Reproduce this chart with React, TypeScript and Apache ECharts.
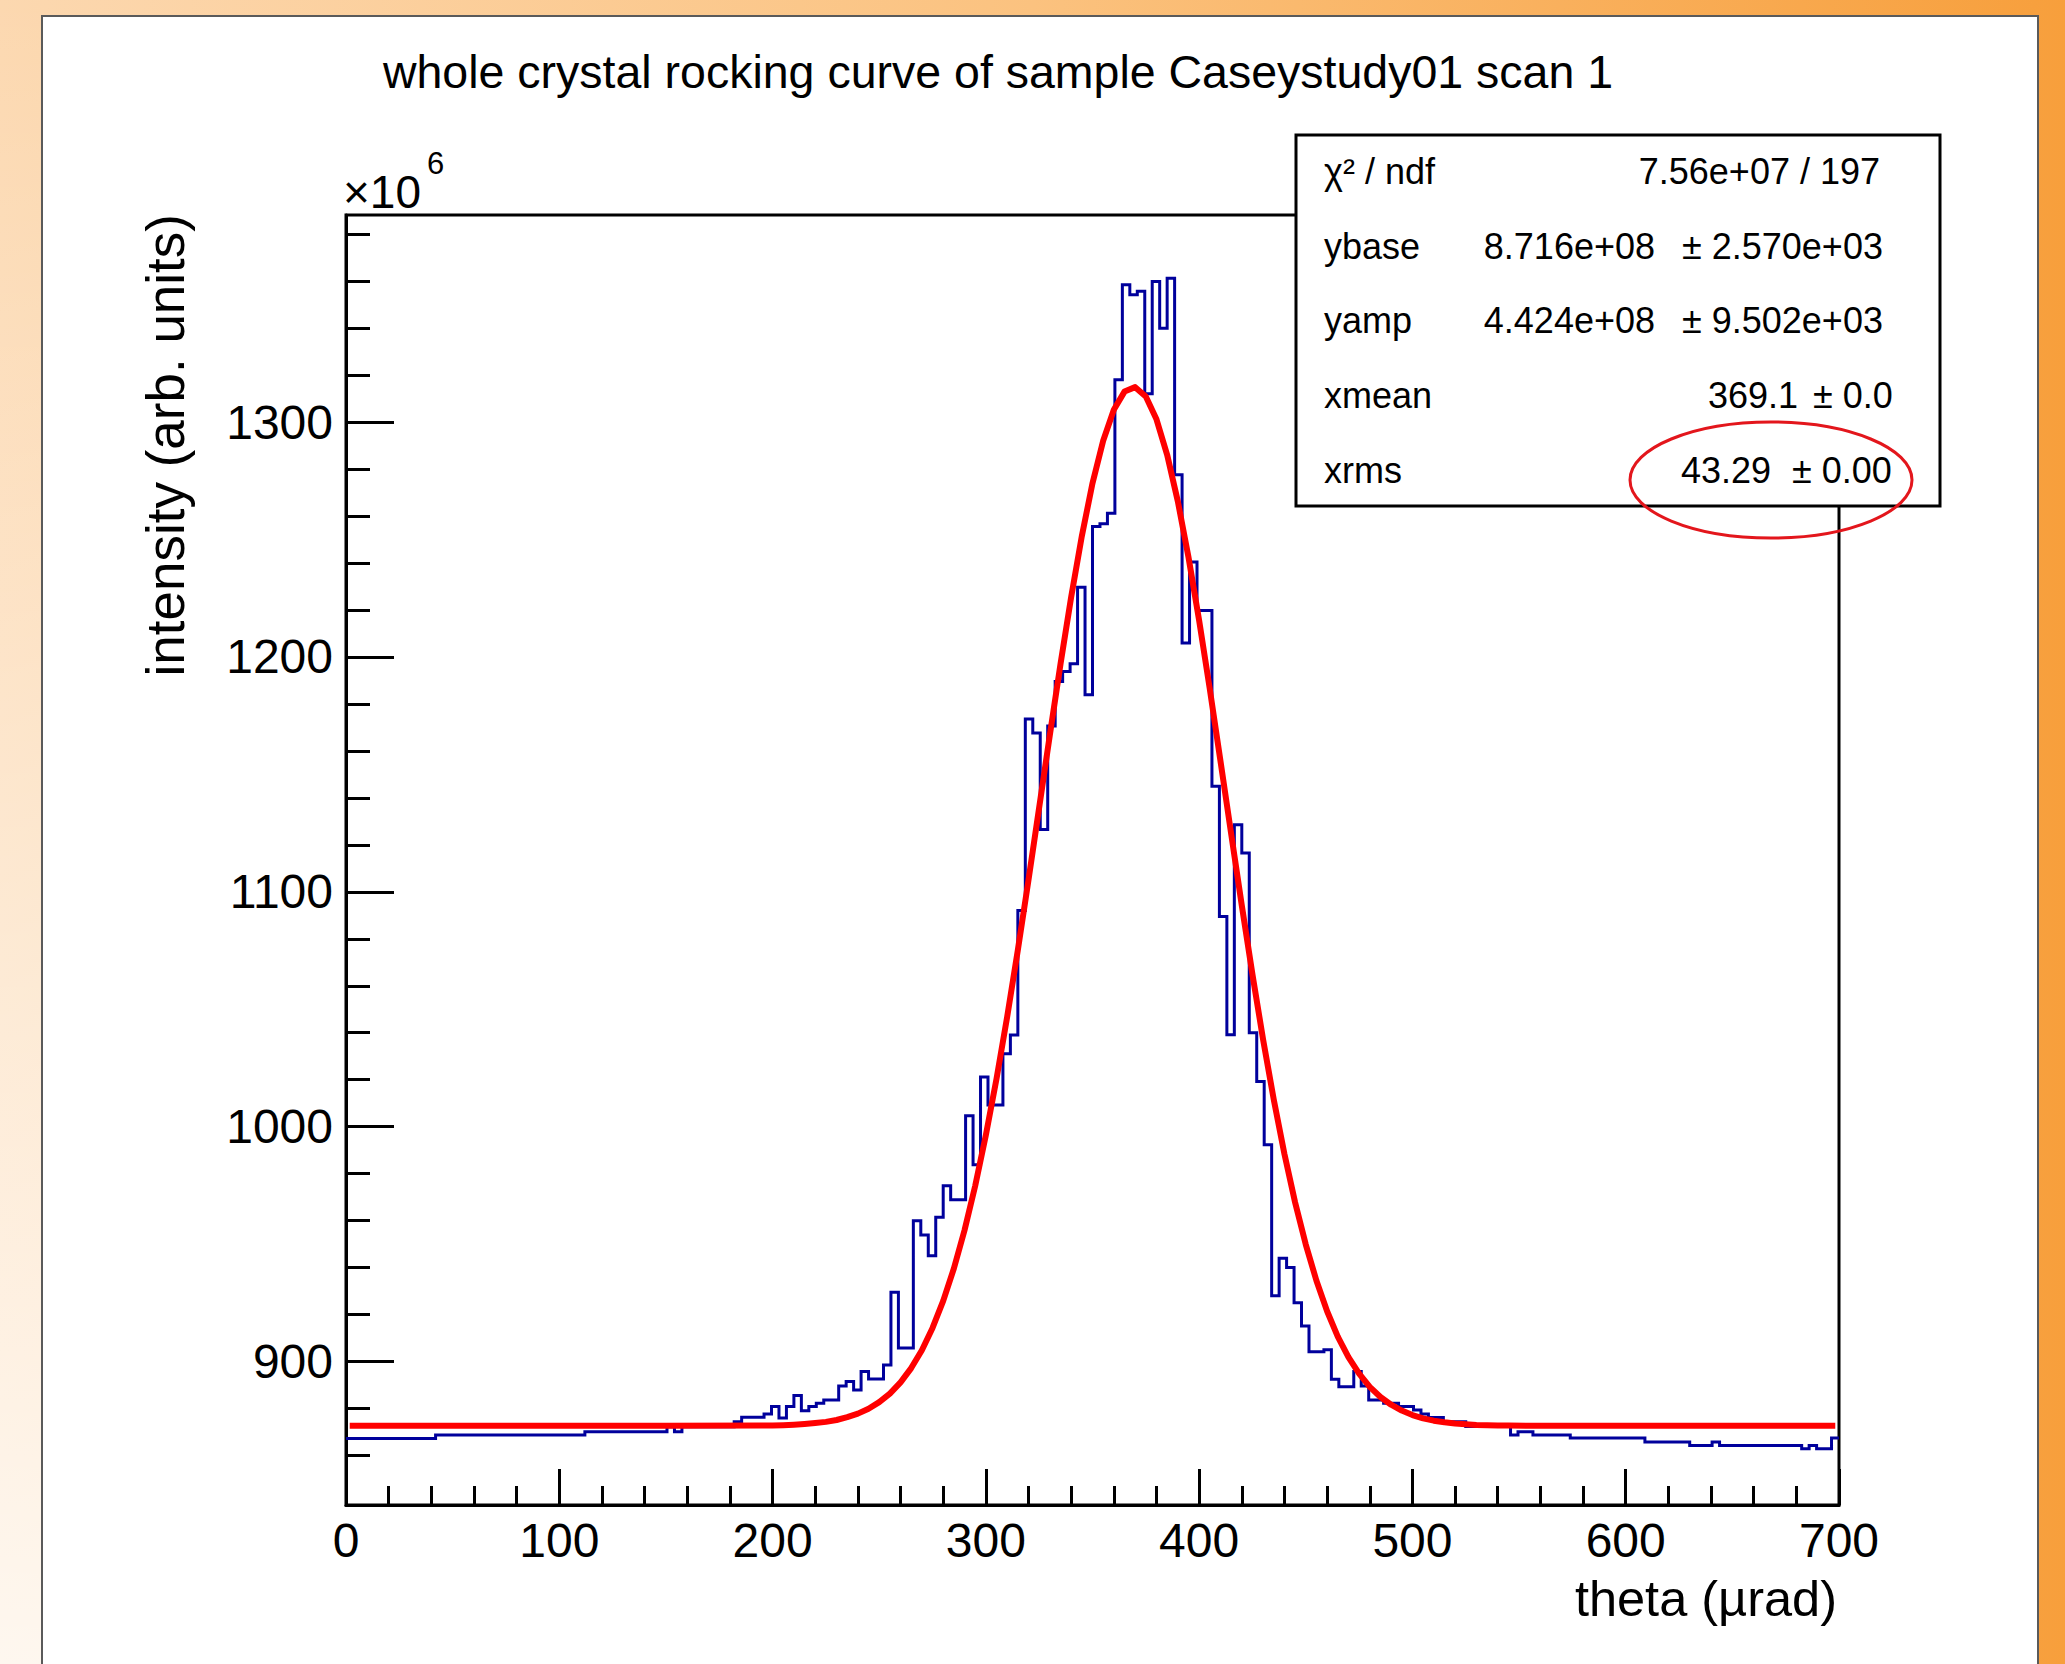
import React, { useEffect, useRef } from 'react';
import * as echarts from 'echarts';

// ---------------- data (values in units of 10^6) ----------------
const BIN_WIDTH = 3.5; // µrad, 200 bins over 0..700
const histValues: number[] = [
  867.2, 867.2, 867.2, 867.2, 867.2, 867.2, 867.2, 867.2, 867.2, 867.2,
  867.2, 867.2, 868.7, 868.7, 868.7, 868.7, 868.7, 868.7, 868.7, 868.7,
  868.7, 868.7, 868.7, 868.7, 868.7, 868.7, 868.7, 868.7, 868.7, 868.7,
  868.7, 868.7, 870.1, 870.1, 870.1, 870.1, 870.1, 870.1, 870.1, 870.1,
  870.1, 870.1, 870.1, 872.2, 870.1, 872.2, 872.2, 872.2, 872.2, 872.2,
  872.2, 872.2, 874.4, 876.3, 876.3, 876.3, 877.6, 880.8, 875.9, 880.8,
  885.5, 879.0, 880.8, 882.2, 883.6, 883.6, 889.6, 891.5, 887.9, 895.7,
  892.6, 892.6, 898.5, 929.5, 905.7, 905.7, 959.9, 953.9, 945.0, 961.4,
  974.8, 968.9, 968.9, 1004.7, 983.8, 1021.2, 1009.2, 1009.2, 1031.0, 1039.0,
  1092.0, 1173.6, 1167.6, 1126.5, 1170.6, 1189.6, 1193.8, 1197.1, 1229.7, 1183.9,
  1255.6, 1256.7, 1261.2, 1318.0, 1358.5, 1354.2, 1355.7, 1312.1, 1359.9, 1340.0,
  1361.3, 1277.6, 1205.9, 1240.4, 1219.8, 1219.8, 1145.0, 1089.5, 1039.1, 1128.6,
  1116.5, 1040.0, 1019.2, 992.3, 928.0, 944.0, 940.0, 925.0, 915.1, 904.2,
  904.2, 905.0, 892.4, 889.3, 889.3, 895.7, 889.6, 883.6, 883.6, 882.2,
  882.2, 880.8, 880.8, 879.3, 877.6, 876.2, 876.2, 874.4, 874.4, 874.4,
  872.3, 872.3, 872.3, 872.3, 872.3, 872.3, 868.7, 870.1, 870.1, 868.7,
  868.7, 868.7, 868.7, 868.7, 867.4, 867.4, 867.4, 867.4, 867.4, 867.4,
  867.4, 867.4, 867.4, 867.4, 865.7, 865.7, 865.7, 865.7, 865.7, 865.7,
  864.2, 864.2, 864.2, 865.7, 864.2, 864.2, 864.2, 864.2, 864.2, 864.2,
  864.2, 864.2, 864.2, 864.2, 864.2, 862.8, 864.2, 862.8, 862.8, 867.4,
];

// fitted curve
const fitX: number[] = [
  1.75, 150, 195, 200, 205, 210, 215, 220, 225, 230, 235, 240, 245, 250, 255, 260, 265, 270,
  275, 280, 285, 290, 295, 300, 305, 310, 315, 320, 325, 330, 335, 340, 345, 350, 355, 360,
  365, 370, 375, 380, 385, 390, 395, 400, 405, 410, 415, 420, 425, 430, 435, 440, 445, 450,
  455, 460, 465, 470, 475, 480, 485, 490, 495, 500, 505, 510, 515, 520, 525, 530, 535, 540,
  545, 560, 698.25,
];
const fitY: number[] = [
  872.6, 872.6, 872.7, 872.8, 872.9, 873.1, 873.4, 873.8, 874.3, 875.1, 876.3, 877.8, 879.9,
  882.7, 886.3, 891.1, 897.2, 904.8, 914.3, 925.8, 939.6, 955.9, 974.8, 996.4, 1020.4, 1046.8,
  1075.2, 1105.1, 1135.9, 1166.8, 1197.0, 1225.5, 1251.5, 1274.0, 1292.1, 1305.3, 1313.0,
  1314.9, 1310.9, 1301.2, 1286.1, 1266.3, 1242.5, 1215.5, 1186.3, 1155.7, 1124.8, 1094.2,
  1064.8, 1037.0, 1011.5, 988.3, 967.7, 949.8, 934.4, 921.4, 910.6, 901.9, 894.8, 889.2,
  884.9, 881.6, 879.1, 877.2, 875.8, 874.8, 874.1, 873.6, 873.3, 873.0, 872.9, 872.8, 872.7,
  872.6, 872.6,
];

const X_MIN = 0;
const X_MAX = 700;
const X_STEP = 100;
const Y_MIN = 838.9;
const Y_MAX = 1388.2;
const yMajorTicks: number[] = [900, 1000, 1100, 1200, 1300];
const yMinorTicks: number[] = [
  860, 880, 920, 940, 960, 980, 1020, 1040, 1060, 1080, 1120, 1140, 1160, 1180,
  1220, 1240, 1260, 1280, 1320, 1340, 1360, 1380,
];

const titleText = 'whole crystal rocking curve of sample Caseystudy01 scan 1';
const xTitle = 'theta (\u00b5rad)';
const yTitle = 'intensity (arb. units)';
const statNames: string[] = ['\u03c7\u00b2 / ndf', 'ybase', 'yamp', 'xmean', 'xrms'];
const statValues: string[] = ['7.56e+07 / 197', '8.716e+08', '4.424e+08', '369.1', '43.29'];
const statErrors: string[] = ['', '\u00b1 2.570e+03', '\u00b1 9.502e+03', '\u00b1 0.0', '\u00b1 0.00'];

// ---------------- layout ----------------
const FONT = '"Liberation Sans", Arial, Helvetica, sans-serif';
const GRID = { left: 346, top: 215, right: 2065 - 1839, bottom: 1664 - 1505 };
const statRowY = [171.5, 246, 320.5, 395, 470];
const statValueRight = [1880, 1655, 1655, 1798, 1771];
const statErrorLeft = [0, 1682, 1682, 1813, 1792];

function txt(
  text: string,
  x: number,
  y: number,
  size: number,
  align: string,
  z = 60,
  extra: any = {}
) {
  return {
    type: 'text',
    x,
    y,
    z,
    silent: true,
    ...extra,
    style: {
      text,
      x: 0,
      y: 0,
      fill: '#000',
      font: `${size}px ${FONT}`,
      align,
      verticalAlign: 'middle',
      textAlign: align,
      textVerticalAlign: 'middle',
    },
  };
}

export default function App() {
  const ref = useRef<HTMLDivElement>(null);

  useEffect(() => {
    if (!ref.current) return;
    const chart = echarts.init(ref.current, undefined, { renderer: 'svg' });

    const histPoints: number[][] = [];
    histValues.forEach((v, i) => {
      histPoints.push([i * BIN_WIDTH, v]);
      histPoints.push([(i + 1) * BIN_WIDTH, v]);
    });
    const fitPoints = fitX.map((x, i) => [x, fitY[i]]);

    const statTexts: any[] = [];
    statNames.forEach((n, i) => {
      statTexts.push(txt(n, 1324, statRowY[i], 36, 'left', 110));
      statTexts.push(txt(statValues[i], statValueRight[i], statRowY[i], 36, 'right', 110));
      if (statErrors[i]) {
        statTexts.push(txt(statErrors[i], statErrorLeft[i], statRowY[i], 36, 'left', 110));
      }
    });

    const axisLine = { show: true, lineStyle: { color: '#000', width: 3 } };
    const tickStyle = { color: '#000', width: 3 };
    const plain = (v: number) => String(Math.round(v));

    chart.setOption({
      animation: false,
      backgroundColor: 'transparent',
      grid: {
        ...GRID,
        show: true,
        borderColor: '#000',
        borderWidth: 3,
        backgroundColor: 'transparent',
        containLabel: false,
      },
      xAxis: {
        type: 'value',
        min: X_MIN,
        max: X_MAX,
        interval: X_STEP,
        axisLine,
        axisTick: { show: true, inside: true, length: 36, lineStyle: tickStyle },
        minorTick: { show: true, splitNumber: 5, length: 19, lineStyle: tickStyle },
        axisLabel: { color: '#000', fontSize: 48, fontFamily: FONT, margin: 11, formatter: plain },
        splitLine: { show: false },
        minorSplitLine: { show: false },
      },
      yAxis: [
        {
          type: 'value',
          position: 'left',
          min: Y_MIN,
          max: Y_MAX,
          axisLine,
          axisTick: {
            show: true,
            inside: true,
            length: 48,
            lineStyle: tickStyle,
            customValues: yMajorTicks,
          },
          axisLabel: {
            color: '#000',
            fontSize: 48,
            fontFamily: FONT,
            margin: 13,
            customValues: yMajorTicks,
            formatter: plain,
          },
          splitLine: { show: false },
        },
        {
          type: 'value',
          position: 'left',
          offset: 0,
          min: Y_MIN,
          max: Y_MAX,
          axisLine: { show: false },
          axisTick: {
            show: true,
            inside: true,
            length: 24,
            lineStyle: tickStyle,
            customValues: yMinorTicks,
          },
          axisLabel: { show: false },
          splitLine: { show: false },
        },
      ],
      series: [
        {
          name: 'histogram',
          type: 'line',
          xAxisIndex: 0,
          yAxisIndex: 0,
          data: histPoints,
          symbol: 'none',
          showSymbol: false,
          lineStyle: { color: '#00009c', width: 3, join: 'miter', cap: 'butt' },
          z: 3,
          silent: true,
        },
        {
          name: 'fit',
          type: 'line',
          xAxisIndex: 0,
          yAxisIndex: 0,
          data: fitPoints,
          smooth: false,
          symbol: 'none',
          showSymbol: false,
          lineStyle: { color: '#ff0000', width: 6, cap: 'butt', join: 'round' },
          z: 4,
          silent: true,
        },
      ],
      graphic: {
        elements: [
          {
            type: 'rect',
            z: -100,
            silent: true,
            shape: { x: 0, y: 0, width: 2065, height: 1664 },
            style: {
              fill: {
                type: 'linear',
                x: 0,
                y: 0,
                x2: 1,
                y2: 0,
                colorStops: [
                  { offset: 0, color: '#fcd8b0' },
                  { offset: 0.5, color: '#fbc27f' },
                  { offset: 1, color: '#f79f3c' },
                ],
              },
            },
          },
          {
            type: 'rect',
            z: -99,
            silent: true,
            shape: { x: 0, y: 0, width: 60, height: 1664 },
            style: {
              fill: {
                type: 'linear',
                x: 0,
                y: 0,
                x2: 0,
                y2: 1,
                colorStops: [
                  { offset: 0, color: 'rgba(255,255,255,0)' },
                  { offset: 1, color: 'rgba(255,255,255,0.8)' },
                ],
              },
            },
          },
          {
            type: 'rect',
            z: -90,
            silent: true,
            shape: { x: 42, y: 16, width: 1996, height: 1700 },
            style: { fill: '#ffffff', stroke: '#5a5a5a', lineWidth: 2 },
          },
          txt(titleText, 998, 72, 46.5, 'center'),
          txt('\u00d710', 343, 192, 46, 'left'),
          txt('6', 427, 163, 31, 'left'),
          txt(yTitle, 165, 214, 53, 'right', 60, { rotation: Math.PI / 2 }),
          txt(xTitle, 1837, 1598, 50.5, 'right'),
          {
            type: 'rect',
            z: 100,
            silent: true,
            shape: { x: 1296, y: 135, width: 644, height: 371 },
            style: { fill: '#ffffff', stroke: '#000', lineWidth: 3 },
          },
          ...statTexts,
          {
            type: 'ellipse',
            z: 120,
            silent: true,
            shape: { cx: 1771, cy: 480, rx: 141, ry: 58 },
            style: { fill: 'none', stroke: '#e3161c', lineWidth: 3 },
          },
        ],
      },
    });

    return () => {
      chart.dispose();
    };
  }, []);

  return (
    <div
      ref={ref}
      style={{ position: 'absolute', left: 0, top: 0, width: 2065, height: 1664 }}
    />
  );
}
